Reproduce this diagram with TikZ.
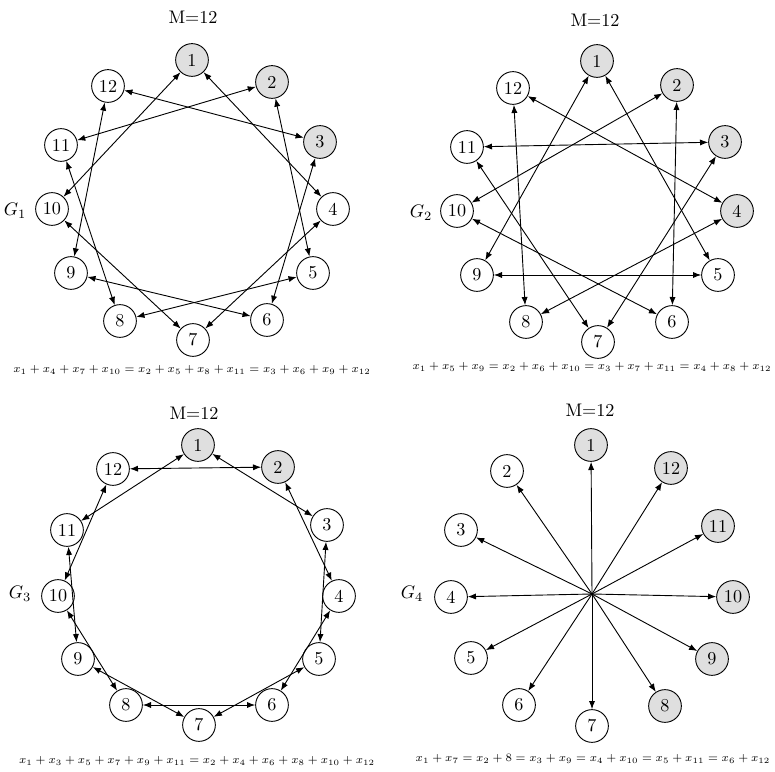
\documentclass[tikz,border=0pt]{standalone}
\usepackage{graphicx}
\usepackage{amssymb}
\usetikzlibrary{arrows, arrows.meta}
\newcommand{\eqtext}[1]{\scalebox{0.89}{\scriptsize$#1$}}

\begin{document}
\begin{tikzpicture}[x=0.55pt,y=0.55pt,
		vtx/.style={draw=black, fill=white, circle, line width=0.5pt, minimum size=18pt, inner sep=0pt},
		hot/.style={vtx, fill=gray!25},
		link/.style={{Latex[length=4.5pt,width=3.4pt]}-{Latex[length=4.5pt,width=3.4pt]}, line width=0.5pt},
		ray/.style={-{Latex[length=4.5pt,width=3.4pt]}, line width=0.5pt}]
		\useasboundingbox (0,0) rectangle (775,771);
		% G_1
		\node (t1) at (193,754) {M=12};
		\node (l1) at (15,560) {$G_1$};
		\node[hot] (a1) at (192,711) {1};
		\node[hot] (a2) at (272,689) {2};
		\node[hot] (a3) at (320,629) {3};
		\node[vtx] (a4) at (333,562) {4};
		\node[vtx] (a5) at (313,498) {5};
		\node[vtx] (a6) at (267,451) {6};
		\node[vtx] (a7) at (193,431) {7};
		\node[vtx] (a8) at (120,450) {8};
		\node[vtx] (a9) at (71,498) {9};
		\node[vtx] (a10) at (52,562) {10};
		\node[vtx] (a11) at (61,626) {11};
		\node[vtx] (a12) at (108,685) {12};
		\draw[link] (a1) -- (a4);
		\draw[link] (a2) -- (a5);
		\draw[link] (a3) -- (a6);
		\draw[link] (a4) -- (a7);
		\draw[link] (a5) -- (a8);
		\draw[link] (a6) -- (a9);
		\draw[link] (a7) -- (a10);
		\draw[link] (a8) -- (a11);
		\draw[link] (a9) -- (a12);
		\draw[link] (a10) -- (a1);
		\draw[link] (a11) -- (a2);
		\draw[link] (a12) -- (a3);
		\node (e1) at (192,401) {\eqtext{x_1+x_4+x_7+x_{10}=x_2+x_5+x_8+x_{11}=x_3+x_6+x_9+x_{12}}};
		% G_2
		\node (t2) at (595,751) {M=12};
		\node (l2) at (421,558) {$G_2$};
		\node[hot] (b1) at (597,710) {1};
		\node[hot] (b2) at (677,686) {2};
		\node[hot] (b3) at (725,629) {3};
		\node[hot] (b4) at (737,560) {4};
		\node[vtx] (b5) at (718,496) {5};
		\node[vtx] (b6) at (672,449) {6};
		\node[vtx] (b7) at (598,429) {7};
		\node[vtx] (b8) at (526,449) {8};
		\node[vtx] (b9) at (477,496) {9};
		\node[vtx] (b10) at (457,560) {10};
		\node[vtx] (b11) at (467,624) {11};
		\node[vtx] (b12) at (513,683) {12};
		\draw[link] (b1) -- (b5);
		\draw[link] (b2) -- (b6);
		\draw[link] (b3) -- (b7);
		\draw[link] (b4) -- (b8);
		\draw[link] (b5) -- (b9);
		\draw[link] (b6) -- (b10);
		\draw[link] (b7) -- (b11);
		\draw[link] (b8) -- (b12);
		\draw[link] (b9) -- (b1);
		\draw[link] (b10) -- (b2);
		\draw[link] (b11) -- (b3);
		\draw[link] (b12) -- (b4);
		\node (e2) at (592,404) {\eqtext{x_1+x_5+x_9=x_2+x_6+x_{10}=x_3+x_7+x_{11}=x_4+x_8+x_{12}}};
		% G_3
		\node (t3) at (194,358) {M=12};
		\node (l3) at (20,177) {$G_3$};
		\node[hot] (c1) at (198,326) {1};
		\node[hot] (c2) at (278,304) {2};
		\node[vtx] (c3) at (327,246) {3};
		\node[vtx] (c4) at (339,175) {4};
		\node[vtx] (c5) at (319,112) {5};
		\node[vtx] (c6) at (272,66) {6};
		\node[vtx] (c7) at (199,46) {7};
		\node[vtx] (c8) at (126,66) {8};
		\node[vtx] (c9) at (78,112) {9};
		\node[vtx] (c10) at (58,175) {10};
		\node[vtx] (c11) at (67,241) {11};
		\node[vtx] (c12) at (113,302) {12};
		\draw[link] (c1) -- (c3);
		\draw[link] (c2) -- (c4);
		\draw[link] (c3) -- (c5);
		\draw[link] (c4) -- (c6);
		\draw[link] (c5) -- (c7);
		\draw[link] (c6) -- (c8);
		\draw[link] (c7) -- (c9);
		\draw[link] (c8) -- (c10);
		\draw[link] (c9) -- (c11);
		\draw[link] (c10) -- (c12);
		\draw[link] (c11) -- (c1);
		\draw[link] (c12) -- (c2);
		\node (e3) at (197,10) {\eqtext{x_1+x_3+x_5+x_7+x_9+x_{11}=x_2+x_4+x_6+x_8+x_{10}+x_{12}}};
		% G_4
		\node (t4) at (590,361) {M=12};
		\node (l4) at (412,177) {$G_4$};
		\coordinate (hub) at (592,177);
		\node[hot] (d1) at (591,326) {1};
		\node[vtx] (d2) at (507,300) {2};
		\node[vtx] (d3) at (461,241) {3};
		\node[vtx] (d4) at (451,174) {4};
		\node[vtx] (d5) at (471,113) {5};
		\node[vtx] (d6) at (519,66) {6};
		\node[vtx] (d7) at (592,45) {7};
		\node[hot] (d8) at (665,65) {8};
		\node[hot] (d9) at (712,112) {9};
		\node[hot] (d10) at (733,174) {10};
		\node[hot] (d11) at (718,245) {11};
		\node[hot] (d12) at (671,303) {12};
		\draw[ray] (hub) -- (d1);
		\draw[ray] (hub) -- (d2);
		\draw[ray] (hub) -- (d3);
		\draw[ray] (hub) -- (d4);
		\draw[ray] (hub) -- (d5);
		\draw[ray] (hub) -- (d6);
		\draw[ray] (hub) -- (d7);
		\draw[ray] (hub) -- (d8);
		\draw[ray] (hub) -- (d9);
		\draw[ray] (hub) -- (d10);
		\draw[ray] (hub) -- (d11);
		\draw[ray] (hub) -- (d12);
		\node (e4) at (593,12) {\eqtext{x_1+x_7=x_2+8=x_3+x_9=x_4+x_{10}=x_5+x_{11}=x_6+x_{12}}};
	\end{tikzpicture}
\end{document}
